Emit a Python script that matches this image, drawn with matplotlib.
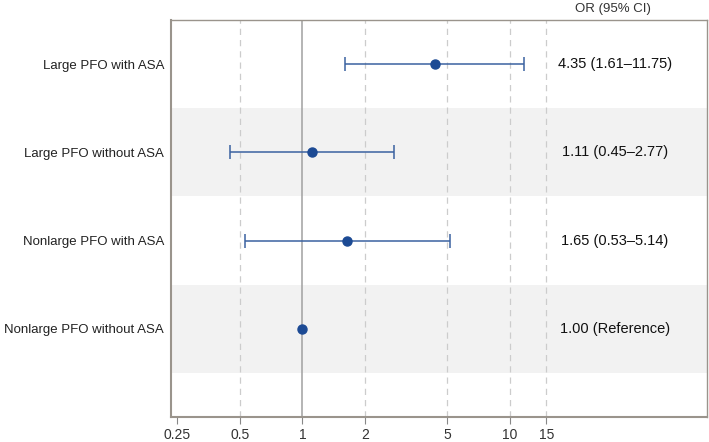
import matplotlib.pyplot as plt
import numpy as np

plt.rcParams['font.family'] = ['Liberation Sans', 'DejaVu Sans']

# Forest plot data
groups = [
    'Large PFO with ASA',
    'Large PFO without ASA',
    'Nonlarge PFO with ASA',
    'Nonlarge PFO without ASA'
]
odds = [4.35, 1.11, 1.65, 1.00]
lower = [1.61, 0.45, 0.53, 1.00]
upper = [11.75, 2.77, 5.14, 1.00]
labels = ['4.35 (1.61\u201311.75)', '1.11 (0.45\u20132.77)',
          '1.65 (0.53\u20135.14)', '1.00 (Reference)']
xticks = [0.25, 0.5, 1, 2, 5, 10, 15]
xticklabels = ['0.25', '0.5', '1', '2', '5', '10', '15']

fig = plt.figure(figsize=(7.09, 4.42), dpi=100)
ax = fig.add_axes([171 / 709, 25 / 442, 536 / 709, 397 / 442])

ax.set_xscale('log')
ax.set_xlim(0.233, 89)
ax.set_ylim(0, 4.5)

ypos = np.arange(len(groups), 0, -1)

# alternating gray bands
for i, y in enumerate(ypos):
    if i % 2 == 1:
        ax.axhspan(y - 0.5, y + 0.5, color='#f2f2f2', zorder=0, lw=0)

# grid lines
for t in [0.5, 2, 5, 10, 15]:
    ax.axvline(t, color='#cccccc', ls=(0, (5, 4)), lw=0.9, zorder=1)
ax.axvline(1, color='#a0a0a0', lw=1.1, zorder=1)

# error bars and points
for y, o, lo, hi in zip(ypos, odds, lower, upper):
    if hi > lo:
        ax.errorbar(o, y, xerr=[[o - lo], [hi - o]], fmt='none',
                    ecolor='#3b62a0', elinewidth=1.1, capsize=5, capthick=1.1, zorder=3)
    ax.plot(o, y, 'o', color='#1c4a94', ms=6.5, zorder=4)

# OR text column
for y, s in zip(ypos, labels):
    ax.text(0.828, y, s, transform=ax.get_yaxis_transform(), ha='center', va='center',
            fontsize=10.5, color='#111111')
ax.text(0.825, 1.012, 'OR (95% CI)', transform=ax.transAxes, ha='center', va='bottom',
        fontsize=9.5, color='#333333')

ax.set_yticks(ypos)
ax.set_yticklabels(groups, fontsize=9.5, color='#222222')
ax.tick_params(axis='y', length=0, pad=5)

ax.set_xticks(xticks)
ax.set_xticklabels(xticklabels, fontsize=10, color='#333333')
ax.xaxis.set_minor_locator(plt.NullLocator())
ax.tick_params(axis='x', length=5, color='#888888', direction='out', pad=3)

for sp in ax.spines.values():
    sp.set_color('#9a948c')
    sp.set_linewidth(1.0)
ax.spines['left'].set_linewidth(1.5)
ax.spines['bottom'].set_linewidth(1.5)

plt.savefig('out.png', dpi=100, facecolor='white')
